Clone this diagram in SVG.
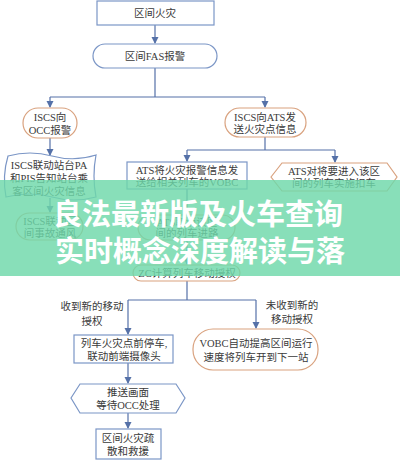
<svg xmlns="http://www.w3.org/2000/svg" width="400" height="461" viewBox="0 0 400 461">
<style>
.b{fill:#fff;stroke:#7b96c6;stroke-width:1.2}
.o{fill:#fff;stroke:#d9a27f;stroke-width:1.2}
.t{font-family:"Liberation Serif","Noto Sans CJK SC",serif;font-size:10.5px;fill:#3a3a3a;text-anchor:middle}
.c{fill:none;stroke:#5571a8;stroke-width:1.2}
.ban{font-family:"Noto Sans CJK SC","Noto Sans",sans-serif;font-size:29px;font-weight:bold;fill:#fff;text-anchor:middle}
</style>
<defs>
<marker id="ar" markerWidth="8" markerHeight="8" refX="6" refY="3.5" orient="auto" markerUnits="userSpaceOnUse">
<path d="M0 0 L7 3.5 L0 7 Z" fill="#5571a8"/>
</marker>
</defs>
<rect width="400" height="461" fill="#fff"/>
<g id="connectors">
<path class="c" d="M155 25 V43" marker-end="url(#ar)"/>
<path class="c" d="M155 68 V97 M50 97 H265"/>
<path class="c" d="M50 97 V107" marker-end="url(#ar)"/>
<path class="c" d="M265 97 V107" marker-end="url(#ar)"/>
<path class="c" d="M50 138 V155" marker-end="url(#ar)"/>
<path class="c" d="M50 198 V212" marker-end="url(#ar)"/>
<path class="c" d="M265 137 V150 M187 150 H335"/>
<path class="c" d="M187 150 V161" marker-end="url(#ar)"/>
<path class="c" d="M335 150 V162" marker-end="url(#ar)"/>
<path class="c" d="M187 189 V214" marker-end="url(#ar)"/>
<path class="c" d="M187 240 V264" marker-end="url(#ar)"/>
<path class="c" d="M187 281 V300 M128 300 H256"/>
<path class="c" d="M128 300 V334" marker-end="url(#ar)"/>
<path class="c" d="M256 300 V328" marker-end="url(#ar)"/>
<path class="c" d="M128 363 V383" marker-end="url(#ar)"/>
<path class="c" d="M128 413 V428" marker-end="url(#ar)"/>
<text class="t" x="92" y="310">收到新的移动</text>
<text class="t" x="92" y="325">授权</text>
<text class="t" x="292" y="309">未收到新的</text>
<text class="t" x="292" y="323">移动授权</text>
</g>
<g id="n1"><rect class="b" x="97" y="1" width="117" height="24"/><text class="t" x="155" y="17">区间火灾</text></g>
<g id="n2"><rect class="b" x="93" y="44" width="124" height="24" rx="12"/><text class="t" x="155" y="60">区间FAS报警</text></g>
<g id="n3"><rect class="o" x="23" y="108" width="54" height="30" rx="15"/><text class="t" x="50" y="121">ISCS向</text><text class="t" x="50" y="134">OCC报警</text></g>
<g id="n4"><rect class="o" x="225" y="108" width="81" height="29" rx="14.5"/><text class="t" x="265" y="121">ISCS向ATS发</text><text class="t" x="265" y="133">送火灾点信息</text></g>
<g id="n5"><path class="b" d="M8 156 Q30 150 52 156 T96 155 Q92 176 96 197 Q74 203 52 197 T6 197 Q2 176 8 156 Z"/><text class="t" x="49" y="169">ISCS联动站台PA</text><text class="t" x="49" y="182">和PIS告知站台乘</text><text class="t" x="49" y="195">客区间火灾信息</text></g>
<g id="n6"><rect class="o" x="16" y="213" width="67" height="27" rx="13.5"/><text class="t" x="50" y="225">ISCS联动区</text><text class="t" x="50" y="237">间事故通风</text></g>
<g id="n7"><rect class="b" x="127" y="162" width="120" height="27"/><text class="t" x="187" y="174">ATS将火灾报警信息发</text><text class="t" x="187" y="186">送给相关列车的VOBC</text></g>
<g id="n8"><polygon class="o" points="271,177 282,163 387,163 397,177 387,191 282,191"/><text class="t" x="334" y="175">ATS对将要进入该区</text><text class="t" x="334" y="187">间的列车实施扣车</text></g>
<g id="n9"><rect class="o" x="138" y="215" width="97" height="25" rx="12.5"/><text class="t" x="187" y="226">ATS取消该区</text><text class="t" x="187" y="237">间的列车进路</text></g>
<g id="n10"><rect class="o" x="133" y="265" width="107" height="16" rx="8"/><text class="t" x="187" y="277">ZC计算列车移动授权</text></g>
<g id="n11"><rect class="b" x="74" y="335" width="99" height="28"/><text class="t" x="124" y="347">列车火灾点前停车,</text><text class="t" x="124" y="360">联动前端摄像头</text></g>
<g id="n12"><rect class="o" x="193" y="329" width="125" height="41" rx="20"/><text class="t" x="256" y="347">VOBC自动提高区间运行</text><text class="t" x="256" y="361">速度将列车开到下一站</text></g>
<g id="n13"><polygon class="b" points="71,398 80,384 176,384 185,398 176,413 80,413"/><text class="t" x="128" y="396">推送画面</text><text class="t" x="128" y="409">等待OCC处理</text></g>
<g id="n14"><rect class="b" x="96" y="429" width="65" height="30"/><text class="t" x="128" y="442">区间火灾疏</text><text class="t" x="128" y="455">散和救援</text></g>
<g id="banner">
<rect x="0" y="180" width="400" height="96" fill="#6ed8aa" opacity="0.82"/>
<text class="ban" x="198" y="225">良法最新版及火车查询</text>
<text class="ban" x="200" y="262">实时概念深度解读与落</text>
</g>
</svg>
